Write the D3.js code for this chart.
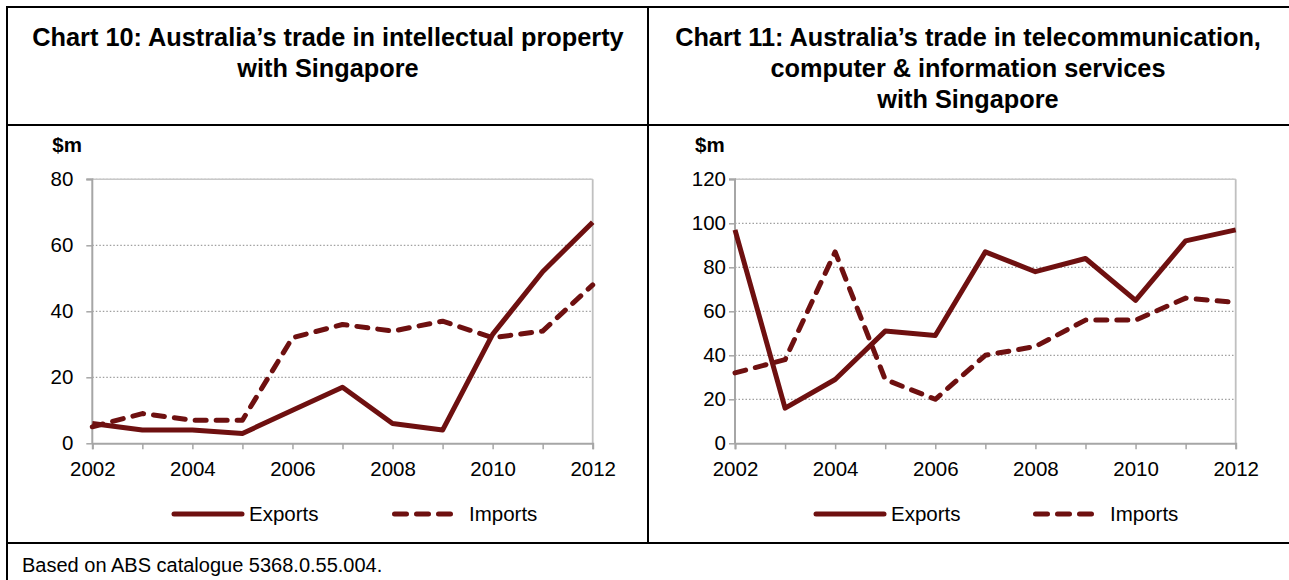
<!DOCTYPE html>
<html><head><meta charset="utf-8">
<script src="https://cdn.jsdelivr.net/npm/d3@7"></script>
<style>body{margin:0;background:#fff;} svg{display:block;font-family:"Liberation Sans",Arial,sans-serif;}</style>
</head><body>
<svg id="c" width="1289" height="580"></svg>
<script>
const years = [2002,2003,2004,2005,2006,2007,2008,2009,2010,2011,2012];
const xTickLabels = [2002,2004,2006,2008,2010,2012];
const ipExports = [6,4,4,3,10,17,6,4,33,52,67];
const ipImports = [5,9,7,7,32,36,34,37,32,34,48];
const tciExports = [97,16,29,51,49,87,78,84,65,92,97];
const tciImports = [32,38,87,29,20,40,44,56,56,66,64];
const ipTicks = [0,20,40,60,80];
const tciTicks = [0,20,40,60,80,100,120];
const titles10 = ["Chart 10: Australia\u2019s trade in intellectual property","with Singapore"];
const titles11 = ["Chart 11: Australia\u2019s trade in telecommunication,","computer & information services","with Singapore"];
const footnote = "Based on ABS catalogue 5368.0.55.004.";

const svg = d3.select("#c");
const RED = "#6e1010";
const FS = 20.5;

// frame
const frame = svg.append("g").attr("stroke","#000").attr("stroke-width",2);
frame.append("line").attr("x1",6).attr("x2",1289).attr("y1",7).attr("y2",7);
frame.append("line").attr("x1",6).attr("x2",1289).attr("y1",125).attr("y2",125);
frame.append("line").attr("x1",6).attr("x2",1289).attr("y1",543).attr("y2",543);
frame.append("line").attr("x1",7).attr("x2",7).attr("y1",6).attr("y2",581);
frame.append("line").attr("x1",648).attr("x2",648).attr("y1",6).attr("y2",544);

function title(lines, cx) {
  const t = svg.append("text").attr("text-anchor","middle").attr("font-weight","bold").attr("font-size",25.3).attr("fill","#000");
  lines.forEach((l,i)=>t.append("tspan").attr("x",cx).attr("y",46+i*31).text(l));
}
title(titles10, 328);
title(titles11, 968);

svg.append("text").attr("x",22).attr("y",572).attr("font-size",20).attr("fill","#000").text(footnote);

function chart(x0, x1, ticks, maxY, exp, imp, legend, yPad) {
  const g = svg.append("g");
  const x = d3.scaleLinear().domain([2002,2012]).range([x0,x1]);
  const y = d3.scaleLinear().domain([0,maxY]).range([443.3,179.3]);
  // gridlines
  g.selectAll("line.grid").data(ticks.filter(t=>t>0)).join("line")
    .attr("x1",x0).attr("x2",x1).attr("y1",d=>y(d)).attr("y2",d=>y(d))
    .attr("stroke","#a0a0a0").attr("stroke-width",1.3).attr("stroke-dasharray","1.5,2");
  // top & right border
  g.append("line").attr("x1",x0).attr("x2",x1).attr("y1",y(maxY)).attr("y2",y(maxY)).attr("stroke","#c8c8c8").attr("stroke-width",1.5);
  g.append("line").attr("x1",x1).attr("x2",x1).attr("y1",y(maxY)).attr("y2",y(0)).attr("stroke","#c0c0c0").attr("stroke-width",1.8);
  // axes
  const yAxis = d3.axisLeft(y).tickValues(ticks).tickSize(6).tickPadding(yPad);
  const ya = g.append("g").attr("transform",`translate(${x0},0)`).call(yAxis);
  const xAxis = d3.axisBottom(x).tickValues(years).tickSize(6).tickPadding(12)
    .tickFormat(d=> xTickLabels.includes(d) ? String(d) : "");
  const xa = g.append("g").attr("transform",`translate(0,${y(0)})`).call(xAxis);
  [ya,xa].forEach(a=>{
    a.attr("font-size",FS).attr("font-family","Liberation Sans, Arial, sans-serif");
    a.select(".domain").attr("stroke","#a6a6a6").attr("stroke-width",2);
    a.selectAll(".tick line").attr("stroke","#a6a6a6").attr("stroke-width",1.5);
    a.selectAll("text").attr("fill","#000");
  });
  ya.select(".domain").attr("d",`M-6,${y(maxY)}H0V${y(0)}`);
  g.append("text").attr("x",x0-40).attr("y",152).attr("font-weight","bold").attr("font-size",20.5).text("$m");
  const line = d3.line().x((d,i)=>x(years[i])).y(d=>y(d));
  g.append("path").datum(imp).attr("d",line).attr("fill","none").attr("stroke",RED).attr("stroke-width",5)
    .attr("stroke-dasharray","11,10").attr("stroke-linecap","round").attr("stroke-linejoin","round");
  g.append("path").datum(exp).attr("d",line).attr("fill","none").attr("stroke",RED).attr("stroke-width",5)
    .attr("stroke-linejoin","round");
  // legend
  const ly = 514;
  g.append("line").attr("x1",legend[0]+2).attr("x2",legend[0]+70).attr("y1",ly).attr("y2",ly).attr("stroke",RED).attr("stroke-width",5).attr("stroke-linecap","round");
  g.append("text").attr("x",legend[0]+77).attr("y",ly+7).attr("font-size",FS).text("Exports");
  g.append("line").attr("x1",legend[1]+2.5).attr("x2",legend[1]+58.5).attr("y1",ly).attr("y2",ly).attr("stroke",RED).attr("stroke-width",5).attr("stroke-linecap","round").attr("stroke-dasharray","12,10");
  g.append("text").attr("x",legend[1]+77).attr("y",ly+7).attr("font-size",FS).text("Imports");
}
chart(92.3, 592.7, ipTicks, 80, ipExports, ipImports, [172, 392], 13);
chart(735, 1235.7, tciTicks, 120, tciExports, tciImports, [814, 1033], 3);
</script>
</body></html>
